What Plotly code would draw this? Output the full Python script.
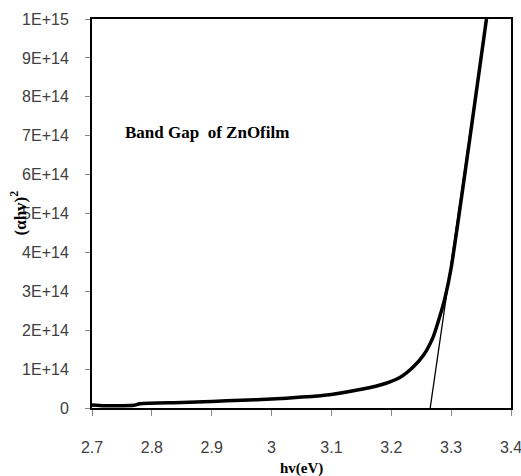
import plotly.graph_objects as go

# Data
hv = [2.70, 2.72, 2.75, 2.77, 2.78, 2.85, 2.90, 2.95, 3.00, 3.05, 3.10, 3.15,
      3.19, 3.215, 3.237, 3.254, 3.27, 3.281, 3.29, 3.30, 3.32, 3.34, 3.359]
ahv2 = [0.8e13, 0.6e13, 0.6e13, 0.7e13, 1.1e13, 1.4e13, 1.7e13, 2.0e13, 2.3e13,
        2.8e13, 3.5e13, 4.8e13, 6.3e13, 7.9e13, 1.06e14, 1.36e14, 1.83e14,
        2.35e14, 2.85e14, 3.6e14, 5.7e14, 7.9e14, 1.0e15]

tangent_x = [3.265, 3.359]
tangent_y = [0.0, 1.0e15]

x_ticks = [2.7, 2.8, 2.9, 3.0, 3.1, 3.2, 3.3, 3.4]
x_labels = ["2.7", "2.8", "2.9", "3", "3.1", "3.2", "3.3", "3.4"]
y_ticks = [0, 1e14, 2e14, 3e14, 4e14, 5e14, 6e14, 7e14, 8e14, 9e14, 1e15]
y_labels = ["0", "1E+14", "2E+14", "3E+14", "4E+14", "5E+14", "6E+14",
            "7E+14", "8E+14", "9E+14", "1E+15"]

tick_font = dict(family="Liberation Sans Narrow, Arial Narrow, sans-serif", size=16, color="#404040")
serif_bold = "Liberation Serif, Times New Roman, serif"

fig = go.Figure()
fig.add_trace(go.Scatter(x=tangent_x, y=tangent_y, mode="lines",
                         line=dict(color="black", width=1.3), hoverinfo="skip"))
fig.add_trace(go.Scatter(x=hv, y=ahv2, mode="lines",
                         line=dict(color="black", width=3.5, shape="spline", smoothing=0.6)))

fig.update_layout(
    width=521, height=476,
    margin=dict(l=92, r=10, t=19, b=68, autoexpand=False),
    plot_bgcolor="white", paper_bgcolor="white",
    showlegend=False,
    xaxis=dict(range=[2.7, 3.4], tickvals=x_ticks, ticktext=x_labels,
               ticks="outside", ticklen=6, tickcolor="#888", tickwidth=1,
               showgrid=False, zeroline=False, automargin=False,
               ticklabeloverflow="allow",
               showline=True, linecolor="black", linewidth=2, mirror=True,
               tickfont=tick_font, ticklabelstandoff=18),
    yaxis=dict(range=[0, 1e15], tickvals=y_ticks, ticktext=y_labels,
               ticks="outside", ticklen=5, tickcolor="#888", tickwidth=1,
               showgrid=False, zeroline=False, automargin=False,
               ticklabeloverflow="allow",
               showline=True, linecolor="black", linewidth=2, mirror=True,
               tickfont=tick_font, ticklabelstandoff=13),
    annotations=[
        dict(x=2.752, y=7.07e14, xref="x", yref="y", xanchor="left", yanchor="middle",
             text="<b>Band Gap  of ZnOfilm</b>", showarrow=False,
             font=dict(family=serif_bold, size=17, color="black")),
        dict(x=0.5, y=0, xref="paper", yref="paper", xanchor="center", yanchor="middle",
             yshift=-60, text="<b>hv(eV)</b>", showarrow=False,
             font=dict(family=serif_bold, size=15, color="black")),
        dict(x=0, y=0.5, xref="paper", yref="paper", xanchor="center", yanchor="middle",
             xshift=-74, textangle=-90, text="<b>(αhv)<sup>2</sup></b>", showarrow=False,
             font=dict(family=serif_bold, size=17, color="black")),
    ],
)

fig.write_html("out.html")
